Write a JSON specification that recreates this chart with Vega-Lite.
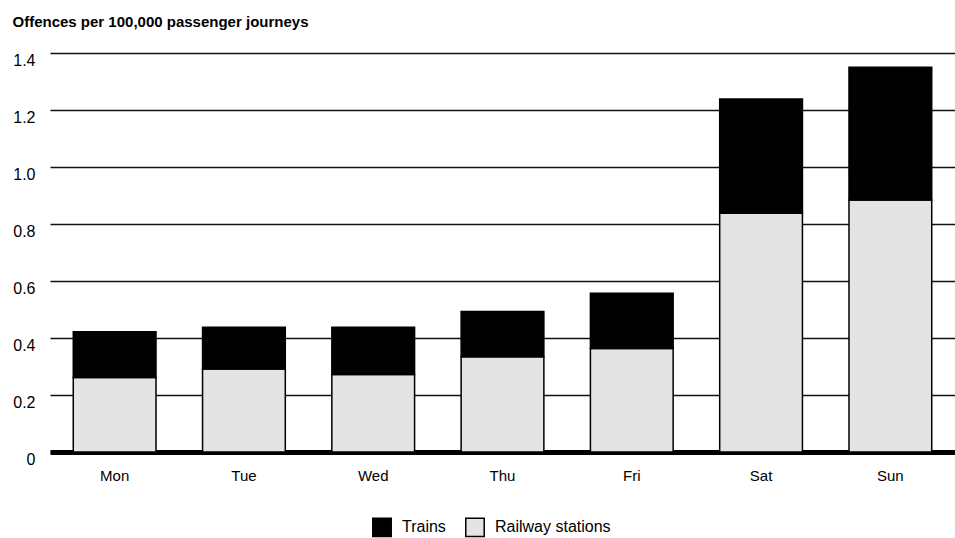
{
  "$schema": "https://vega.github.io/schema/vega-lite/v6.json",
  "autosize": "none",
  "width": 905,
  "height": 399,
  "padding": {"left": 50, "top": 53, "right": 0, "bottom": 86},
  "background": "white",
  "config": {
    "view": {"stroke": null},
    "font": "Liberation Sans"
  },
  "data": {
    "values": [
      {"day": "Mon", "type": "Railway stations", "value": 0.261},
      {"day": "Mon", "type": "Trains", "value": 0.161},
      {"day": "Tue", "type": "Railway stations", "value": 0.291},
      {"day": "Tue", "type": "Trains", "value": 0.147},
      {"day": "Wed", "type": "Railway stations", "value": 0.272},
      {"day": "Wed", "type": "Trains", "value": 0.166},
      {"day": "Thu", "type": "Railway stations", "value": 0.334},
      {"day": "Thu", "type": "Trains", "value": 0.159},
      {"day": "Fri", "type": "Railway stations", "value": 0.363},
      {"day": "Fri", "type": "Trains", "value": 0.194},
      {"day": "Sat", "type": "Railway stations", "value": 0.838},
      {"day": "Sat", "type": "Trains", "value": 0.401},
      {"day": "Sun", "type": "Railway stations", "value": 0.884},
      {"day": "Sun", "type": "Trains", "value": 0.466}
    ]
  },
  "mark": {"type": "bar", "stroke": "black", "strokeWidth": 1.5},
  "encoding": {
    "x": {
      "field": "day",
      "type": "nominal",
      "sort": ["Mon", "Tue", "Wed", "Thu", "Fri", "Sat", "Sun"],
      "scale": {"paddingInner": 0.36, "paddingOuter": 0.18},
      "axis": {
        "title": null,
        "labelAngle": 0,
        "labelFontSize": 15,
        "labelColor": "black",
        "labelPadding": 16,
        "ticks": false,
        "domainColor": "black",
        "domainWidth": 5
      }
    },
    "y": {
      "field": "value",
      "type": "quantitative",
      "stack": "zero",
      "scale": {"domain": [0, 1.4], "nice": false},
      "axis": {
        "values": [0, 0.2, 0.4, 0.6, 0.8, 1.0, 1.2, 1.4],
        "labelExpr": "datum.value == 0 ? '0' : format(datum.value, '.1f')",
        "title": "Offences per 100,000 passenger journeys",
        "titleAngle": 0,
        "titleAlign": "left",
        "titleBaseline": "alphabetic",
        "titleX": -38,
        "titleY": -27,
        "titleFontSize": 15,
        "titleFontWeight": "bold",
        "titleColor": "black",
        "labelFontSize": 16,
        "labelColor": "black",
        "labelBaseline": "middle",
        "labelOffset": 7,
        "labelPadding": 15,
        "ticks": false,
        "domain": false,
        "grid": true,
        "gridColor": "#111",
        "gridWidth": 1.5
      }
    },
    "order": {"field": "type", "sort": "ascending"},
    "color": {
      "field": "type",
      "type": "nominal",
      "scale": {"domain": ["Trains", "Railway stations"], "range": ["#000000", "#e4e4e4"]},
      "legend": {
        "title": null,
        "orient": "none",
        "direction": "horizontal",
        "legendX": 322,
        "legendY": 464,
        "symbolType": "square",
        "symbolSize": 340,
        "symbolStrokeColor": "black",
        "symbolStrokeWidth": 1.5,
        "labelFontSize": 16,
        "labelColor": "black",
        "labelOffset": 10,
        "columnPadding": 16
      }
    }
  }
}
